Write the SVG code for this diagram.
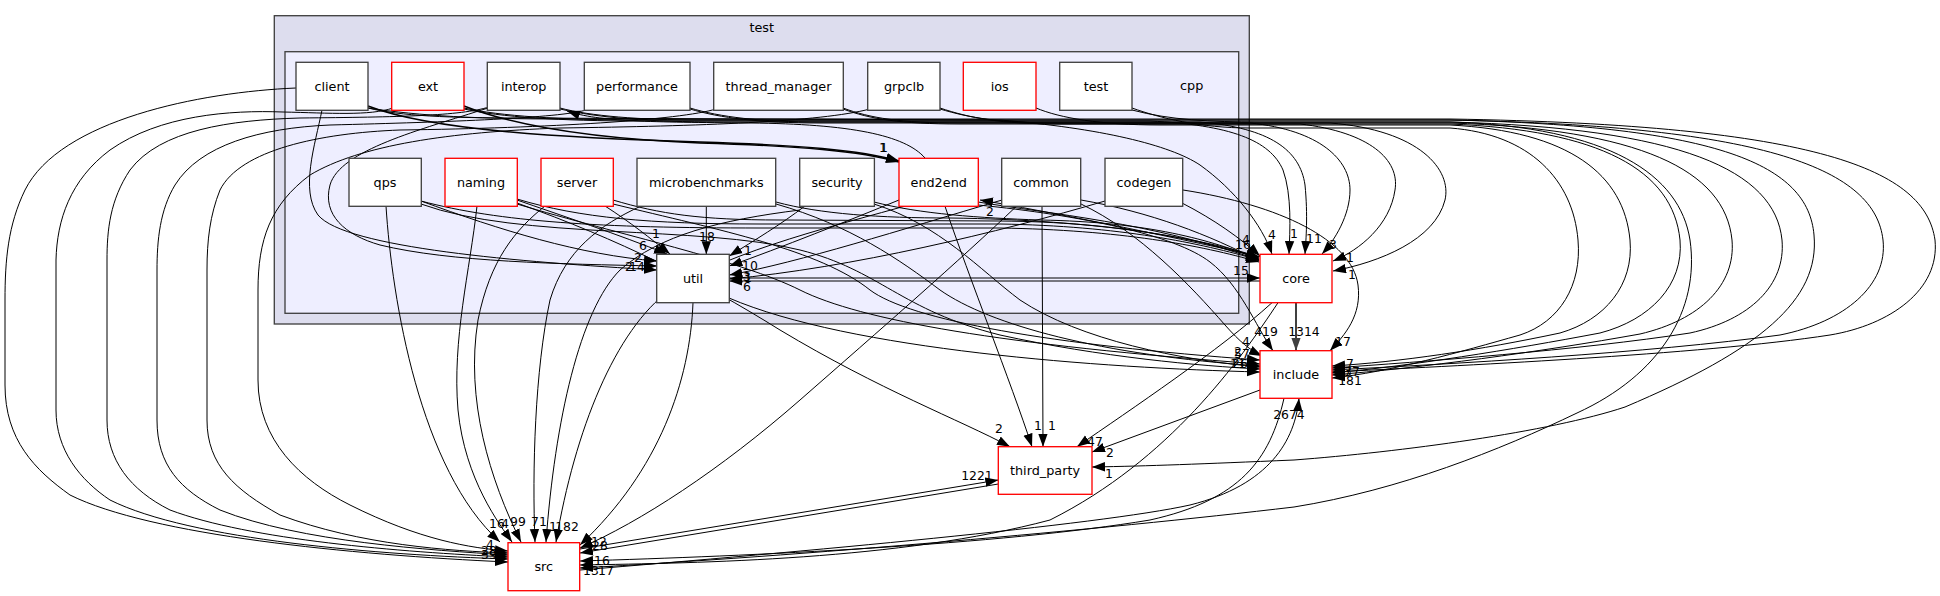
<svg xmlns="http://www.w3.org/2000/svg" width="1940" height="596" viewBox="0 0 1940 596">
<style>
.c1{fill:#ddddee;stroke:#404040;stroke-width:1.33}
.c2{fill:#eeeeff;stroke:#404040;stroke-width:1.33}
.n{fill:#fff;stroke:#404040;stroke-width:1.33}
.r{fill:#fff;stroke:#ff0000;stroke-width:1.33}
.t{font-family:"DejaVu Sans","Liberation Sans",sans-serif;font-size:12.8px;text-anchor:middle;fill:#000}
.l{font-family:"DejaVu Sans","Liberation Sans",sans-serif;font-size:12.4px;text-anchor:middle;fill:#000}
.e{fill:none;stroke:#000;stroke-width:1;marker-end:url(#a)}
.b{stroke-width:1.4}
.g{fill:none;stroke:#404040;stroke-width:2;marker-end:url(#ag)}
</style>
<defs>
<marker id="a" markerWidth="14" markerHeight="10" refX="13" refY="5" orient="auto" markerUnits="userSpaceOnUse"><path d="M0,0.3L13,5L0,9.7z" fill="#000"/></marker>
<marker id="ag" markerWidth="14" markerHeight="10" refX="13" refY="5" orient="auto" markerUnits="userSpaceOnUse"><path d="M0,0.3L13,5L0,9.7z" fill="#404040"/></marker>
</defs>
<rect width="1940" height="596" fill="#fff"/>
<g id="cluster_test"><rect class="c1" x="274.3" y="15.7" width="975" height="308.3"/><text class="t" x="761.7" y="32">test</text></g>
<g id="cluster_cpp"><rect class="c2" x="285" y="51.7" width="953.7" height="261.6"/><text class="t" x="1191.7" y="90">cpp</text></g>

<g id="edges">
<!-- top row to src (left curves) -->
<path class="e" d="M296,88 C200,92 60,120 25,190 C8,225 5,260 5,300 L5,385 C5,440 35,470 70,495 C150,535 350,555 508,562"/>
<path class="e" d="M393,108 C370,116 330,113 283,112 C230,110 160,115 110,150 C70,180 57,220 56,260 L56,410 C56,450 80,480 110,500 C190,540 380,555 508,559"/>
<path class="e" d="M489,107 C460,116 400,117 300,118 C230,120 160,130 130,170 C110,200 107,230 107,260 L107,420 C107,460 130,490 170,510 C250,540 400,552 508,557"/>
<path class="e" d="M586,110 C560,118 450,122 330,125 C260,128 200,145 175,185 C160,210 157,240 157,270 L157,420 C157,465 180,490 220,510 C300,542 430,550 508,555"/>
<path class="e" d="M716,109 C680,120 550,128 400,130 C320,133 240,150 220,190 C210,215 207,240 207,270 L207,420 C207,465 235,490 280,515 C360,545 450,551 508,553"/>
<path class="e" d="M870,109 C820,122 700,126 560,128 C450,132 360,145 310,175 C270,205 258,240 258,290 L258,380 C258,440 300,480 350,505 C420,540 470,548 508,551"/>
<!-- top row to util -->
<path class="e" d="M322,110 C315,145 300,190 318,215 C345,248 520,262 657,270"/>
<path class="e" d="M488,108 C420,130 340,150 330,185 C322,215 345,235 380,245 C450,262 560,264 657,266"/>
<!-- top row to end2end -->
<path class="e b" d="M368,106 C430,130 560,138 700,142 C800,145 860,150 899,161"/>
<path class="e b" d="M464,106 C520,128 600,139 700,143 C800,146 860,151 899,162"/>
<!-- top row to core -->
<path class="e" d="M368,108 C400,116 450,118 520,118 L1000,120 C1100,128 1170,145 1200,165 C1235,190 1262,225 1272,254"/>
<path class="e" d="M464,109 C500,117 560,121 640,121 L1150,121 C1230,125 1270,140 1283,170 C1292,195 1290,230 1289,254"/>
<path class="e" d="M560,109 C600,118 650,122 720,122 L1200,122 C1270,128 1300,150 1305,185 C1308,215 1306,240 1305,254"/>
<path class="e" d="M690,109 C720,118 760,123 820,123 L1250,123 C1320,130 1350,160 1350,190 C1350,215 1335,240 1322,254"/>
<path class="e" d="M843,109 C870,119 900,124 960,124 L1300,124 C1370,132 1400,160 1395,190 C1390,225 1360,250 1333,261"/>
<path class="e" d="M940,109 C970,118 1000,123 1060,123 L1330,123 C1420,130 1452,170 1445,200 C1435,240 1380,262 1333,271"/>
<!-- top row to include (right loops) -->
<path class="e" d="M368,108 C420,116 480,119 560,119 L1450,119 C1820,125 1925,170 1935,240 C1940,290 1890,325 1830,335 C1700,355 1450,366 1332,372"/>
<path class="e" d="M464,108 C500,116 560,120 640,120 L1450,120 C1770,126 1875,170 1883,240 C1888,285 1845,322 1780,335 C1650,353 1450,364 1332,370"/>
<path class="e" d="M690,108 C720,117 760,122 820,122 L1450,122 C1680,128 1775,170 1782,240 C1786,285 1750,320 1690,333 C1580,350 1420,362 1332,368"/>
<path class="e" d="M843,108 C870,118 900,123 960,123 L1450,123 C1640,129 1725,170 1732,240 C1736,285 1700,320 1640,334 C1540,352 1420,368 1332,375"/>
<path class="e" d="M940,108 C970,118 1000,124 1060,124 L1450,124 C1600,130 1673,170 1680,240 C1684,285 1650,320 1600,333 C1510,350 1410,366 1332,373"/>
<path class="e" d="M1036,108 C1060,118 1100,125 1160,125 L1450,125 C1570,131 1624,175 1630,240 C1634,285 1605,320 1560,333 C1480,350 1400,362 1332,366"/>
<path class="e" d="M1132,108 C1160,118 1200,128 1250,128 L1450,128 C1530,134 1573,180 1578,240 C1582,285 1560,322 1520,335 C1460,352 1390,372 1332,378"/>
<!-- loops to third_party and src -->
<path class="e" d="M560,108 C590,116 640,120 700,120 L1450,120 C1720,126 1808,165 1814,235 C1820,300 1760,350 1625,407 C1550,432 1400,452 1294,460 C1200,464 1150,466 1092,467"/>
<path class="e" d="M1132,110 C1170,120 1210,122 1260,122 L1450,122 C1610,127 1680,175 1690,240 C1700,310 1660,375 1577,413 C1500,450 1400,490 1294,507 C1100,530 800,556 580,568"/>
<!-- end2end to interop -->
<path class="e" d="M925,158 C905,135 850,124 750,123 C650,122 600,122 567,111"/>
<!-- lower row to src -->
<path class="e" d="M386,206 C392,300 420,470 500,542"/>
<path class="e" d="M477,206 C470,270 452,340 458,410 C465,480 500,525 512,542"/>
<path class="e" d="M545,206 C515,230 490,260 478,320 C465,400 490,480 521,542"/>
<path class="e" d="M641,206 C600,225 565,250 550,300 C535,370 532,470 535,542"/>
<path class="e" d="M800,210 C720,220 660,235 620,270 C580,310 555,420 546,542"/>
<path class="e" d="M905,206 C850,222 730,250 670,290 C615,330 575,430 556,542"/>
<!-- lower row to util -->
<path class="e" d="M517,200 C560,215 620,235 667,254"/>
<path class="e" d="M605,206 C630,222 650,238 670,254"/>
<path class="e" d="M421,201 C500,230 580,255 657,261"/>
<path class="e" d="M706.3,206.3 L706.3,254.3"/>
<path class="e" d="M805,206 C780,225 755,240 729.3,256"/>
<path class="e" d="M899,200 C850,220 780,248 729.3,266"/>
<path class="e" d="M1002,200 C900,230 800,262 729.3,275"/>
<path class="e" d="M1105,201 C1000,232 850,268 729.3,279"/>
<!-- lower row to core -->
<path class="e" d="M421,201 C500,222 600,228 760,228 L1000,228 C1120,230 1200,245 1259,262"/>
<path class="e" d="M517,199 C580,218 650,224 760,224 L1000,224 C1120,226 1200,243 1259,260"/>
<path class="e" d="M613,200 C660,214 700,220 780,220 L1000,221 C1120,222 1200,240 1259,258"/>
<path class="e" d="M776,202 C820,214 880,218 950,218 C1100,220 1200,238 1259,257"/>
<path class="e" d="M874,202 C920,214 980,218 1040,220 C1150,222 1210,240 1259,259"/>
<path class="e" d="M978,202 C1050,214 1150,222 1259,260"/>
<path class="e" d="M1081,200 C1150,212 1210,235 1259,261"/>
<path class="e" d="M1182,203 C1215,220 1240,238 1260,256"/>
<!-- lower row to include -->
<path class="e" d="M421,204 C520,240 700,225 800,250 C880,270 900,310 1000,335 C1100,357 1200,366 1260,369"/>
<path class="e" d="M517,204 C620,235 740,260 800,290 C860,320 1000,345 1260,364"/>
<path class="e" d="M613,204 C720,230 820,250 870,290 C910,320 1050,345 1260,360"/>
<path class="e" d="M776,204 C850,225 900,260 940,290 C990,325 1100,355 1260,366"/>
<path class="e" d="M874,204 C940,225 980,270 1020,300 C1080,340 1180,360 1260,367"/>
<path class="e" d="M1081,204 C1140,232 1190,285 1225,325 C1240,342 1250,350 1262,356"/>
<path class="e" d="M978,205 C1080,215 1175,235 1210,262 C1240,285 1255,325 1273,350.7"/>
<path class="e" d="M1183,190 C1280,205 1352,240 1358,285 C1362,315 1345,335 1330,350.7"/>
<!-- lower row to third_party -->
<path class="e" d="M517,203 C620,240 700,280 780,330 C880,390 960,420 1010,446.7"/>
<path class="e" d="M945,206.3 C970,280 1010,380 1032,446.7"/>
<path class="e" d="M1042,206.3 L1043,446.7"/>
<!-- lower row to src (right side) -->
<path class="e" d="M1016,206.7 C960,260 880,330 800,400 C720,470 640,522 580,548"/>
<!-- util -->
<path class="e" d="M729.3,278 L1260,278"/>
<path class="e" d="M729,298 C850,350 1100,368 1260,372"/>
<path class="e" d="M693,302.7 C690,380 660,470 580,545"/>
<!-- core -->
<path class="e" d="M1260,281 L729.3,281"/>
<path class="e" d="M1262,257 C1150,232 1050,212 980,200"/>
<path class="g" d="M1296,302.7 L1296,350.7"/>
<path class="e" d="M1272,302.7 C1220,350 1130,410 1077,446.7"/>
<path class="e" d="M1278,302.7 C1240,360 1170,460 1050,520 C900,560 700,563 580,565"/>
<!-- include -->
<path class="e" d="M1260,390 L1092,452"/>
<path class="e" d="M1284,398.3 C1270,460 1240,500 1150,520 C1000,545 750,556 580,561"/>
<!-- src / third_party -->
<path class="e" d="M580,570 C800,552 1100,525 1190,505 C1270,485 1295,440 1299,398.3"/>
<path class="e" d="M580,549 L998.3,480"/>
<path class="e" d="M998.3,484 L580,553"/>

<!-- edge labels -->
<text class="l" x="643" y="250">6</text>
<text class="l" x="638" y="262">2</text>
<text class="l" x="637" y="271">14</text>
<text class="l" x="629" y="271">2</text>
<text class="l" x="656" y="238">1</text>
<text class="l" x="707" y="241">18</text>
<text class="l" x="748" y="255">1</text>
<text class="l" x="750" y="270">10</text>
<text class="l" x="747" y="281">3</text>
<text class="l" x="748" y="282">1</text>
<text class="l" x="747" y="291">6</text>
<text class="l" x="883" y="152">1</text>
<text class="l" x="884" y="152">1</text>
<text class="l" x="990" y="216">2</text>
<text class="l" x="1272" y="239">4</text>
<text class="l" x="1294" y="238">1</text>
<text class="l" x="1314" y="243">11</text>
<text class="l" x="1333" y="249">3</text>
<text class="l" x="1350" y="262">1</text>
<text class="l" x="1352" y="279">1</text>
<text class="l" x="1246" y="244">4</text>
<text class="l" x="1243" y="249">16</text>
<text class="l" x="1241" y="275">15</text>
<text class="l" x="1266" y="336">419</text>
<text class="l" x="1304" y="336">1314</text>
<text class="l" x="1343" y="346">17</text>
<text class="l" x="1246" y="346">4</text>
<text class="l" x="1242" y="358">57</text>
<text class="l" x="1238" y="356">2</text>
<text class="l" x="1240" y="368">26</text>
<text class="l" x="1238" y="368">11</text>
<text class="l" x="1350" y="368">7</text>
<text class="l" x="1352" y="376">37</text>
<text class="l" x="1348" y="376">7</text>
<text class="l" x="1350" y="385">181</text>
<text class="l" x="1289" y="419">2674</text>
<text class="l" x="999" y="433">2</text>
<text class="l" x="1038" y="430">1</text>
<text class="l" x="1052" y="430">1</text>
<text class="l" x="1095" y="446">47</text>
<text class="l" x="1110" y="457">2</text>
<text class="l" x="1109" y="478">1</text>
<text class="l" x="977" y="480">1221</text>
<text class="l" x="497" y="528">16</text>
<text class="l" x="505" y="528">4</text>
<text class="l" x="518" y="526">99</text>
<text class="l" x="539" y="526">71</text>
<text class="l" x="553" y="531">1</text>
<text class="l" x="567" y="531">182</text>
<text class="l" x="490" y="549">4</text>
<text class="l" x="489" y="555">28</text>
<text class="l" x="489" y="559">39</text>
<text class="l" x="599" y="546">12</text>
<text class="l" x="600" y="550">28</text>
<text class="l" x="602" y="565">16</text>
<text class="l" x="606" y="575">17</text>
<text class="l" x="591" y="575">13</text>
</g>

<g id="node_client"><rect class="n" x="296" y="62.3" width="72" height="48"/><text class="t" x="332" y="91">client</text></g>
<g id="node_ext"><rect class="r" x="391.7" y="62.3" width="72.3" height="48"/><text class="t" x="428" y="91">ext</text></g>
<g id="node_interop"><rect class="n" x="487.3" y="62.3" width="72.7" height="48"/><text class="t" x="523.7" y="91">interop</text></g>
<g id="node_performance"><rect class="n" x="584.3" y="62.3" width="105.7" height="48"/><text class="t" x="637" y="91">performance</text></g>
<g id="node_thread_manager"><rect class="n" x="713.7" y="62.3" width="129.6" height="48"/><text class="t" x="778.5" y="91">thread_manager</text></g>
<g id="node_grpclb"><rect class="n" x="867.7" y="62.3" width="72.3" height="48"/><text class="t" x="904" y="91">grpclb</text></g>
<g id="node_ios"><rect class="r" x="963.3" y="62.3" width="72.7" height="48"/><text class="t" x="999.7" y="91">ios</text></g>
<g id="node_test"><rect class="n" x="1059.7" y="62.3" width="72.3" height="48"/><text class="t" x="1096" y="91">test</text></g>
<g id="node_qps"><rect class="n" x="349" y="158.3" width="72.3" height="48"/><text class="t" x="385" y="187">qps</text></g>
<g id="node_naming"><rect class="r" x="445" y="158.3" width="72.3" height="48"/><text class="t" x="481" y="187">naming</text></g>
<g id="node_server"><rect class="r" x="541" y="158.3" width="72.3" height="48"/><text class="t" x="577" y="187">server</text></g>
<g id="node_microbenchmarks"><rect class="n" x="637" y="158.3" width="138.7" height="48"/><text class="t" x="706.3" y="187">microbenchmarks</text></g>
<g id="node_security"><rect class="n" x="799.7" y="158.3" width="74.7" height="48"/><text class="t" x="837" y="187">security</text></g>
<g id="node_end2end"><rect class="r" x="899" y="158.3" width="79.3" height="48"/><text class="t" x="938.7" y="187">end2end</text></g>
<g id="node_common"><rect class="n" x="1001.7" y="158.3" width="79" height="48"/><text class="t" x="1041" y="187">common</text></g>
<g id="node_codegen"><rect class="n" x="1105" y="158.3" width="77.7" height="48"/><text class="t" x="1144" y="187">codegen</text></g>
<g id="node_util"><rect class="n" x="656.7" y="254.3" width="72.6" height="48.4"/><text class="t" x="693" y="283">util</text></g>
<g id="node_core"><rect class="r" x="1260" y="254.3" width="72" height="48.4"/><text class="t" x="1296" y="283">core</text></g>
<g id="node_include"><rect class="r" x="1260" y="350.7" width="72" height="47.6"/><text class="t" x="1296" y="379">include</text></g>
<g id="node_third_party"><rect class="r" x="998.3" y="446.7" width="93.7" height="47.6"/><text class="t" x="1045" y="475">third_party</text></g>
<g id="node_src"><rect class="r" x="508" y="542.7" width="71.7" height="48"/><text class="t" x="543.8" y="571">src</text></g>
</svg>
